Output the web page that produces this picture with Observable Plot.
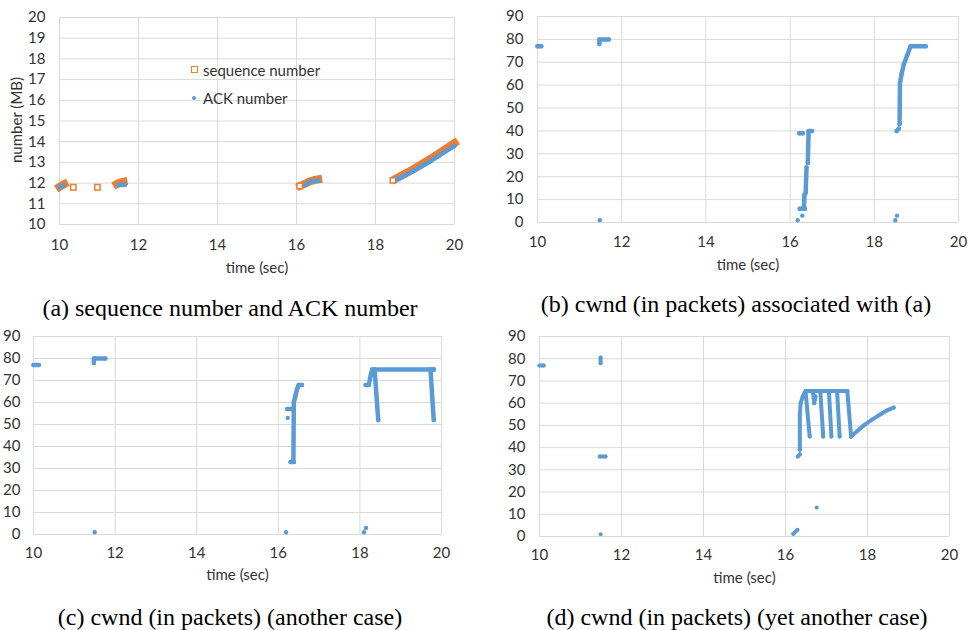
<!DOCTYPE html>
<html><head><meta charset="utf-8">
<script src="https://cdn.jsdelivr.net/npm/d3@7"></script>
<script src="https://cdn.jsdelivr.net/npm/@observablehq/plot@0.6"></script>
<style>
body{margin:0;background:#fff;width:968px;height:630px;position:relative;overflow:hidden}
.panel{position:absolute}
.cap{position:absolute;font-family:'Liberation Serif','Times New Roman',Times,serif;font-size:24px;line-height:26px;color:#000;white-space:nowrap;transform:translateX(-50%)}
.leg{position:absolute;font-family:Lato,sans-serif;font-size:15px;line-height:18px;color:#333;white-space:nowrap}
.sq{position:absolute;width:5px;height:5px;border:1.5px solid #ed7d31;background:#fff}
.bd{position:absolute;width:4px;height:4px;border-radius:50%;background:#5b9bd5}
</style></head><body>
<script>
// ---------- shared ticks ----------
const timeTicks = [10, 12, 14, 16, 18, 20];
const mbTicks = [10, 11, 12, 13, 14, 15, 16, 17, 18, 19, 20];
const cwndTicks = [0, 10, 20, 30, 40, 50, 60, 70, 80, 90];
const BLUE = "#5b9bd5", ORANGE = "#ed7d31";
const FONT = "Lato, sans-serif", FS = 15;

// ---------- (a) sequence number / ACK number (MB) ----------
const aSeqRuns = [
  [[10.0, 11.82], [10.05, 11.88], [10.12, 11.95]],
  [[11.45, 11.95], [11.52, 12.02], [11.62, 12.06]],
  [[16.1, 11.87], [16.3, 12.05], [16.45, 12.15], [16.55, 12.18]],
  [[18.5, 12.2], [19.0, 12.72], [19.5, 13.3], [20.0, 13.93]]
];
const aSeqDots = [[10.35, 11.8], [10.96, 11.8], [18.44, 12.13], [16.08, 11.86]];
const aAckRuns = [
  [[10.0, 11.8], [10.1, 11.88]],
  [[11.48, 11.9], [11.66, 11.92]],
  [[16.22, 11.9], [16.35, 12.08], [16.56, 12.12]],
  [[18.55, 12.18], [19.0, 12.62], [19.4, 13.07], [20.0, 13.8]]
];
const aAckDots = [];

// ---------- (b) cwnd associated with (a) ----------
const bRuns = [
  [[10.0, 77], [10.09, 77]],
  [[11.47, 78], [11.47, 80], [11.69, 80]],
  [[16.22, 39], [16.3, 39]],
  [[16.23, 6], [16.35, 6]],
  [[16.33, 7], [16.34, 12]],
  [[16.37, 13], [16.39, 24]],
  [[16.42, 26], [16.44, 40], [16.52, 40]],
  [[18.53, 40], [18.58, 41]],
  [[18.6, 43], [18.61, 61], [18.65, 65], [18.7, 69], [18.78, 73], [18.86, 77], [19.22, 77]]
];
const bDots = [[11.48, 1], [16.18, 1], [16.29, 3], [18.5, 1], [18.54, 3]];

// ---------- (c) cwnd, another case ----------
const cRuns = [
  [[10.0, 77], [10.13, 77]],
  [[11.48, 78], [11.48, 80], [11.76, 80]],
  [[16.22, 57], [16.34, 57]],
  [[16.3, 33], [16.38, 33]],
  [[16.37, 33], [16.38, 60], [16.42, 63], [16.46, 66], [16.5, 68], [16.58, 68]],
  [[18.14, 68], [18.22, 68], [18.26, 72], [18.3, 75], [19.81, 75]],
  [[18.36, 75], [18.45, 52]],
  [[19.73, 75], [19.81, 52]]
];
const cDots = [[11.5, 1], [16.19, 1], [16.23, 53], [18.1, 1], [18.15, 3], [19.81, 75]];

// ---------- (d) cwnd, yet another case ----------
const dRuns = [
  [[10.0, 77], [10.1, 77]],
  [[11.49, 78], [11.49, 80.5]],
  [[11.47, 36], [11.61, 36]],
  [[16.19, 1.2], [16.29, 3]],
  [[16.3, 36], [16.35, 37]],
  [[16.35, 39], [16.35, 55], [16.37, 60], [16.42, 63], [16.49, 65.5], [17.51, 65.5]],
  [[16.49, 65], [16.59, 45]],
  [[16.67, 65], [16.7, 60], [16.73, 63]],
  [[16.85, 65], [16.92, 45]],
  [[17.06, 65], [17.12, 45]],
  [[17.26, 65], [17.32, 45]],
  [[17.51, 65], [17.6, 45]],
  [[17.6, 45], [17.75, 47.5], [17.91, 50], [18.1, 52.5], [18.32, 55], [18.5, 57], [18.64, 58]]
];
const dDots = [[11.49, 1], [16.76, 13]];

// ---------- helpers ----------
function rowsFromRuns(runs) {
  const rows = [];
  runs.forEach((run, i) => run.forEach(([t, v]) => rows.push({t, v, run: i})));
  return rows;
}
function rowsFromDots(dots) { return dots.map(([t, v]) => ({t, v})); }

function panel(cfg) {
  const txt = {fontFamily: FONT, fontSize: FS, fill: "#333"};
  const marks = [
    Plot.gridX(timeTicks, {stroke: "#d9d9d9", strokeOpacity: 1}),
    Plot.gridY(cfg.yTicks, {stroke: "#d9d9d9", strokeOpacity: 1}),
    Plot.axisY(cfg.yTicks, {...txt, tickSize: 0, tickPadding: cfg.yPad, label: null}),
    Plot.axisX(timeTicks, {...txt, tickSize: 0, tickPadding: cfg.xPad,
      label: "time (sec)", labelAnchor: "center", labelArrow: "none", labelOffset: cfg.labelOffset})
  ];
  for (const layer of cfg.layers) {
    const runRows = rowsFromRuns(layer.runs);
    marks.push(Plot.line(runRows, {x: "t", y: "v", z: "run", stroke: layer.color,
      strokeWidth: layer.width, strokeLinecap: layer.cap || "round", strokeLinejoin: "round"}));
    if (layer.square) {
      marks.push(Plot.dot(rowsFromDots(layer.dots), {x: "t", y: "v", symbol: "square", r: 3,
        stroke: layer.color, strokeWidth: 1.5, fill: "white"}));
    } else {
      marks.push(Plot.dot(runRows, {x: "t", y: "v", r: layer.r, fill: layer.color}));
      marks.push(Plot.dot(rowsFromDots(layer.dots), {x: "t", y: "v", r: layer.r, fill: layer.color}));
    }
  }
  const svg = Plot.plot({
    width: cfg.width, height: cfg.height,
    marginLeft: cfg.mL, marginRight: cfg.mR, marginTop: cfg.mT, marginBottom: cfg.mB,
    style: {fontFamily: FONT, fontSize: FS + "px", background: "white", overflow: "visible"},
    x: {domain: [10, 20]},
    y: {domain: cfg.yDomain},
    marks
  });
  const wrap = document.createElement("div");
  wrap.className = "panel";
  wrap.style.left = cfg.left + "px";
  wrap.style.top = cfg.top + "px";
  wrap.appendChild(svg);
  document.body.appendChild(wrap);
  const cap = document.createElement("div");
  cap.className = "cap";
  cap.textContent = cfg.caption;
  cap.style.left = cfg.capX + "px";
  cap.style.top = (cfg.capY - 13) + "px";
  document.body.appendChild(cap);
  return svg;
}

// (a)
const svgA = panel({
  left: 0, top: 0, width: 480, height: 290, mL: 59, mR: 26, mT: 17, mB: 66,
  yDomain: [10, 20], yTicks: mbTicks, yPad: 14, xPad: 15, labelOffset: 48,
  caption: "(a) sequence number and ACK number", capX: 230, capY: 308,
  layers: [
    {runs: aSeqRuns, dots: aSeqDots, color: ORANGE, width: 8, cap: "square", square: true},
    {runs: aAckRuns, dots: aAckDots, color: BLUE, width: 4.5, r: 2}
  ]
});
// y-axis title for (a)
{
  const t = document.createElementNS("http://www.w3.org/2000/svg", "text");
  t.setAttribute("transform", "translate(22,120) rotate(-90)");
  t.setAttribute("text-anchor", "middle");
  t.setAttribute("fill", "#333");
  t.setAttribute("font-family", FONT);
  t.setAttribute("font-size", FS);
  t.textContent = "number (MB)";
  svgA.appendChild(t);
}
// legend for (a)
{
  const items = [["sq", "sequence number", 70], ["bd", "ACK number", 98]];
  for (const [cls, label, y] of items) {
    const m = document.createElement("div");
    m.className = cls;
    if (cls === "sq") { m.style.left = "191px"; m.style.top = (y - 4) + "px"; }
    else { m.style.left = "192px"; m.style.top = (y - 2) + "px"; }
    document.body.appendChild(m);
    const l = document.createElement("div");
    l.className = "leg";
    l.textContent = label;
    l.style.left = "203px";
    l.style.top = (y - 9) + "px";
    document.body.appendChild(l);
  }
}
// (b)
panel({
  left: 480, top: 0, width: 488, height: 290, mL: 57, mR: 10, mT: 16, mB: 68,
  yDomain: [0, 90], yTicks: cwndTicks, yPad: 14, xPad: 14, labelOffset: 47,
  caption: "(b) cwnd (in packets) associated with (a)", capX: 736, capY: 304,
  layers: [{runs: bRuns, dots: bDots, color: BLUE, width: 4.5, r: 2.2}]
});
// (c)
panel({
  left: 0, top: 320, width: 480, height: 280, mL: 33, mR: 39, mT: 16, mB: 66,
  yDomain: [0, 90], yTicks: cwndTicks, yPad: 13, xPad: 13, labelOffset: 45,
  caption: "(c) cwnd (in packets) (another case)", capX: 230, capY: 617,
  layers: [{runs: cRuns, dots: cDots, color: BLUE, width: 4.5, r: 2.2}]
});
// (d)
panel({
  left: 480, top: 320, width: 488, height: 280, mL: 59, mR: 19, mT: 16, mB: 64,
  yDomain: [0, 90], yTicks: cwndTicks, yPad: 14, xPad: 13, labelOffset: 46,
  caption: "(d) cwnd (in packets) (yet another case)", capX: 737, capY: 617,
  layers: [{runs: dRuns, dots: dDots, color: BLUE, width: 4, r: 2}]
});
</script>
</body></html>
